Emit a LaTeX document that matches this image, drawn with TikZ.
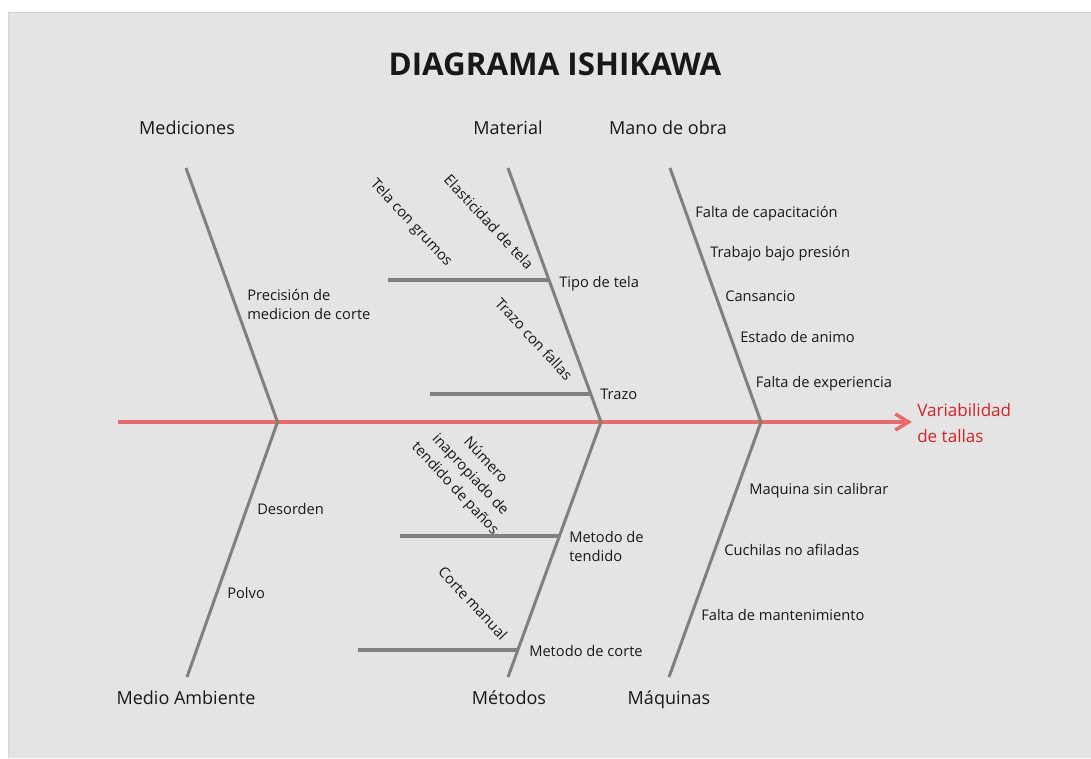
\documentclass[tikz,border=0pt]{standalone}
\usepackage{fontspec}
\setmainfont{Open Sans}
\usetikzlibrary{arrows.meta}

\definecolor{bg}{RGB}{228,228,228}
\definecolor{framecol}{RGB}{212,212,212}
\definecolor{bone}{RGB}{128,128,128}
\definecolor{spinecol}{RGB}{232,106,106}
\definecolor{effectcol}{RGB}{214,34,40}
\definecolor{ink}{RGB}{24,24,24}

\begin{document}
\begin{tikzpicture}[x=0.75pt,y=-0.75pt,
  bonestyle/.style={draw=bone,line width=2.25pt},
  branchstyle/.style={draw=bone,line width=2.6pt},
  spinestyle/.style={draw=spinecol,line width=2.6pt,-{Straight Barb[length=10pt,width=12pt]}},
  cause/.style={font=\fontsize{11}{14}\selectfont,text=ink,inner sep=0pt,anchor=base west,align=left},
  slanted/.style={font=\fontsize{11}{15.5}\selectfont,text=ink,inner sep=0pt,rotate=-47,align=center},
  category/.style={font=\fontsize{13.5}{16}\selectfont,text=ink,inner sep=0pt,anchor=base},
  effectstyle/.style={font=\fontsize{12.8}{19.5}\selectfont,text=effectcol,inner sep=0pt,anchor=base west,align=left}]

% canvas
\useasboundingbox (0,0) rectangle (1091,758);
\fill[bg] (8,12) rectangle (1091,758);
\draw[framecol,line width=0.75pt] (8,758) -- (8,12) -- (1091,12);

% title
\node[font=\bfseries\fontsize{23.5}{28}\selectfont,text=ink,anchor=base,inner sep=0pt] (title) at (555,75) {DIAGRAMA ISHIKAWA};

% joints on the spine and free ends of the bones
\coordinate (tail) at (118,422);
\coordinate (head) at (912,422);
\coordinate (j1) at (277.5,422);
\coordinate (j2) at (601,422);
\coordinate (j3) at (761,422);
\coordinate (medTop) at (186,168);
\coordinate (ambBot) at (187,677);
\coordinate (matTop) at (508,168);
\coordinate (metBot) at (508,677);
\coordinate (manTop) at (670,168);
\coordinate (maqBot) at (669,677);

% sub-branches
\coordinate (telaS) at (388,280);   \coordinate (telaE) at (549.5,280);
\coordinate (trazoS) at (430,394);  \coordinate (trazoE) at (591,394);
\coordinate (tendS) at (400,536);   \coordinate (tendE) at (559,536);
\coordinate (corteS) at (358,650);  \coordinate (corteE) at (518,650);
\draw[branchstyle] (telaS) -- (telaE);
\draw[branchstyle] (trazoS) -- (trazoE);
\draw[branchstyle] (tendS) -- (tendE);
\draw[branchstyle] (corteS) -- (corteE);

% spine
\draw[spinestyle] (tail) -- (head);

% main bones
\draw[bonestyle] (medTop) -- (j1) -- (ambBot);
\draw[bonestyle] (matTop) -- (j2) -- (metBot);
\draw[bonestyle] (manTop) -- (j3) -- (maqBot);

% effect (base anchor sits on the last line)
\node[effectstyle] (effect) at (917,442.5) {Variabilidad\\de tallas};

% categories
\node[category] (cMed) at (187,134) {Mediciones};
\node[category] (cMat) at (508,134) {Material};
\node[category] (cMan) at (668,134) {Mano de obra};
\node[category] (cAmb) at (186,704) {Medio Ambiente};
\node[category] (cMet) at (509,704) {Métodos};
\node[category] (cMaq) at (669,704) {Máquinas};

% Mediciones
\node[cause] (precision) at (247,319) {Precisión de\\medicion de corte};

% Material
\node[slanted] (grumos) at (411,223) {Tela con grumos};
\node[slanted] (elast) at (489,222) {Elasticidad de tela};
\node[cause] (tipo) at (559,287) {Tipo de tela};
\node[slanted] (fallas) at (534,339) {Trazo con fallas};
\node[cause] (trazo) at (600,399) {Trazo};

% Mano de obra
\node[cause] (m1) at (695,217) {Falta de capacitación};
\node[cause] (m2) at (710,257.5) {Trabajo bajo presión};
\node[cause] (m3) at (725,301.5) {Cansancio};
\node[cause] (m4) at (740,342.5) {Estado de animo};
\node[cause] (m5) at (755.5,387) {Falta de experiencia};

% Medio Ambiente
\node[cause] (desorden) at (257,514) {Desorden};
\node[cause] (polvo) at (227,598) {Polvo};

% Métodos
\node[slanted] (numero) at (470,475) {Número\\inapropiado de\\tendido de paños};
\node[cause] (tendido) at (569,561.5) {Metodo de\\tendido};
\node[slanted] (manual) at (473,603) {Corte manual};
\node[cause] (mcorte) at (529,656.5) {Metodo de corte};

% Máquinas
\node[cause] (q1) at (749,494) {Maquina sin calibrar};
\node[cause] (q2) at (724,555) {Cuchilas no afiladas};
\node[cause] (q3) at (701,620) {Falta de mantenimiento};
\end{tikzpicture}
\end{document}
